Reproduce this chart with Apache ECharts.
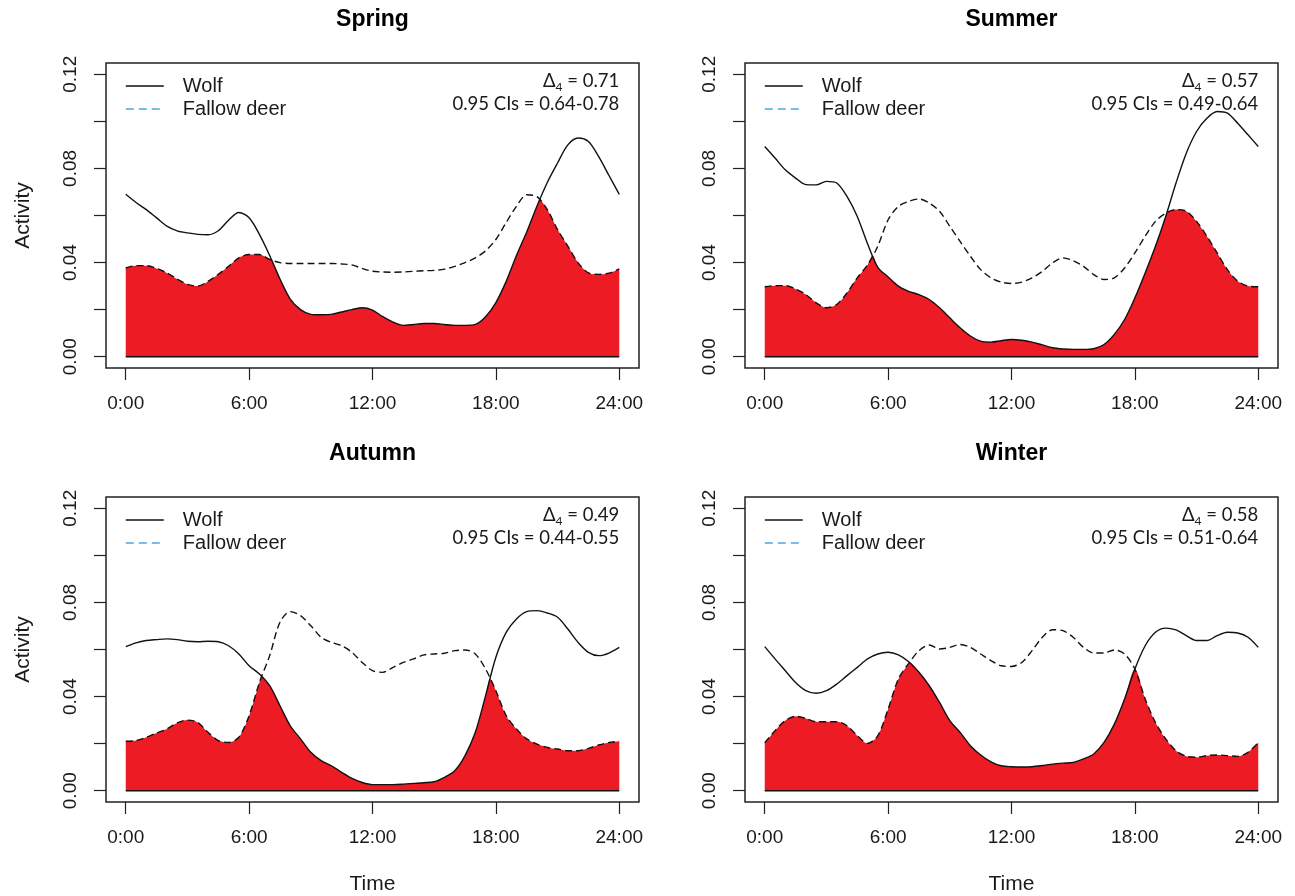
<!DOCTYPE html>
<html><head><meta charset="utf-8">
<script src="https://cdn.jsdelivr.net/npm/echarts@6/dist/echarts.min.js"></script>
<style>html,body{margin:0;padding:0;background:#fff}#c{width:1295px;height:896px}</style>
</head><body><div id="c"></div>
<script>
// ---- data ----
const hours = [0,0.5,1,1.5,2,2.5,3,3.5,4,4.5,5,5.5,6,6.5,7,7.5,8,8.5,9,9.5,10,10.5,11,11.5,12,12.5,13,13.5,14,14.5,15,15.5,16,16.5,17,17.5,18,18.5,19,19.5,20,20.5,21,21.5,22,22.5,23,23.5,24];
const xTicks = [0,6,12,18,24];
const xTickLabels = ['0:00','6:00','12:00','18:00','24:00'];
const yTicks = [0,0.02,0.04,0.06,0.08,0.10,0.12];
const yTickLabels = [0,0.04,0.08,0.12];
const seasons = ['Spring','Summer','Autumn','Winter'];
const deltaValues = ['0.71','0.57','0.49','0.58'];
const ciValues = ['0.64-0.78','0.49-0.64','0.44-0.55','0.51-0.64'];

const springWolf = [0.069,0.0655,0.0625,0.059,0.0555,0.0535,0.0526,0.052,0.0518,
  0.0535,0.058,0.0613,0.059,0.052,0.043,0.033,0.0245,
  0.020,0.018,0.0178,0.018,0.019,0.020,0.0208,0.0198,
  0.017,0.0147,0.0133,0.0137,0.0141,0.0141,0.0137,0.0133,
  0.0133,0.0137,0.017,0.023,0.032,0.043,0.053,0.064,
  0.074,0.0823,0.090,0.0929,0.0914,0.085,0.077,0.069];
const springDeer = [0.0377,0.0387,0.0387,0.0375,0.0356,0.033,0.0307,0.030,0.032,
  0.035,0.0384,0.042,0.0434,0.0434,0.0413,0.040,0.0396,
  0.0396,0.0396,0.0396,0.0396,0.0394,0.039,0.0375,0.0363,
  0.036,0.0359,0.036,0.0363,0.0365,0.0367,0.0372,0.0384,
  0.040,0.042,0.045,0.0498,0.057,0.0639,0.0688,0.068,
  0.0625,0.054,0.047,0.0399,0.0356,0.035,0.0355,0.0373];
const summerWolf = [0.0893,0.0844,0.0794,0.0759,0.0731,0.073,0.0745,0.0738,0.0681,
  0.0596,0.048,0.038,0.0339,0.030,0.0278,0.0264,0.0243,
  0.0208,0.0165,0.0123,0.0088,0.0066,0.0062,0.0068,0.0073,
  0.007,0.0062,0.005,0.0038,0.0033,0.0031,0.0031,0.0034,
  0.0052,0.0095,0.0158,0.025,0.0356,0.0469,0.0596,0.0738,
  0.0865,0.0957,0.1013,0.1042,0.1035,0.0992,0.0943,0.0893];
const summerDeer = [0.0297,0.0302,0.0302,0.0288,0.0264,0.0229,0.0208,0.0222,0.0271,
  0.0335,0.039,0.047,0.0582,0.0639,0.066,0.067,0.0653,
  0.0618,0.0554,0.049,0.0427,0.037,0.0335,0.0317,0.0311,
  0.0317,0.0335,0.0363,0.0399,0.042,0.0408,0.0384,0.0349,
  0.0328,0.0335,0.0377,0.0441,0.0512,0.0575,0.061,0.0625,
  0.0618,0.0575,0.0512,0.0441,0.037,0.0321,0.030,0.0297];
const autumnWolf = [0.0612,0.0628,0.0638,0.0642,0.0645,0.0642,0.0635,0.0633,0.0635,
  0.0633,0.0616,0.0581,0.0531,0.0496,0.0446,0.0361,0.0276,
  0.022,0.0163,0.0128,0.0106,0.0078,0.0052,0.0035,0.0026,
  0.0026,0.0026,0.0028,0.0031,0.0034,0.0038,0.0057,0.0085,
  0.0149,0.0248,0.0404,0.0567,0.0673,0.073,0.0761,0.0765,
  0.0755,0.0737,0.0687,0.063,0.0588,0.0574,0.0585,0.0609];
const autumnDeer = [0.021,0.0213,0.0227,0.0245,0.0262,0.0288,0.03,0.029,0.0248,
  0.0213,0.0205,0.0227,0.0319,0.046,0.0574,0.0716,0.0761,
  0.0744,0.0701,0.0652,0.063,0.0616,0.0588,0.0545,0.051,
  0.0503,0.0524,0.0545,0.056,0.0577,0.0581,0.0584,0.0595,
  0.0598,0.0581,0.0517,0.0425,0.0319,0.0262,0.022,0.0198,
  0.0184,0.0177,0.017,0.017,0.018,0.0194,0.0205,0.021];
const winterWolf = [0.0612,0.056,0.051,0.046,0.0425,0.0414,0.0425,0.0453,0.0489,
  0.0524,0.056,0.0581,0.0588,0.0577,0.0548,0.0503,0.0446,
  0.0375,0.0298,0.0248,0.0191,0.0152,0.0123,0.0106,0.0102,
  0.0101,0.0102,0.0107,0.0113,0.0117,0.012,0.0135,0.0156,
  0.0205,0.0283,0.039,0.0517,0.0616,0.0673,0.0691,0.0683,
  0.0659,0.0638,0.0638,0.0659,0.0673,0.067,0.0652,0.0609];
const winterDeer = [0.0203,0.0255,0.0298,0.0316,0.0307,0.0293,0.0293,0.0293,0.0276,
  0.0234,0.0201,0.0234,0.0347,0.0475,0.0541,0.0595,0.0619,
  0.0602,0.0609,0.0621,0.0609,0.0581,0.0553,0.0531,0.0528,
  0.0545,0.0595,0.0652,0.0684,0.068,0.0652,0.0609,0.0585,
  0.0585,0.0598,0.0581,0.0517,0.039,0.029,0.022,0.017,
  0.0146,0.0142,0.0149,0.0152,0.0149,0.0146,0.0163,0.0205];

const wolfSets = [springWolf, summerWolf, autumnWolf, winterWolf];
const deerSets = [springDeer, summerDeer, autumnDeer, winterDeer];

// ---- layout ----
const panels = [{left:106, top:63}, {left:745, top:63}, {left:106, top:497}, {left:745, top:497}];
const W = 533, H = 305;
const XMIN = -0.96, XMAX = 24.96, YMIN = -0.0048, YMAX = 0.1248;
const TXT = '#1a1a1a';
const RED = '#ED1C24';
const SMOOTH = 0.3;

function pairs(vals){ return hours.map((h,k)=>[h, vals[k]]); }
function overlap(w, d){
  const pts = [];
  for (let k = 0; k < hours.length; k++){
    pts.push([hours[k], Math.min(w[k], d[k])]);
    if (k < hours.length - 1){
      const a = w[k]-d[k], b = w[k+1]-d[k+1];
      if (a*b < 0){
        const t = a/(a-b);
        pts.push([hours[k] + t*(hours[k+1]-hours[k]), w[k] + t*(w[k+1]-w[k])]);
      }
    }
  }
  return pts;
}

const grids = [], xAxes = [], yAxes = [], series = [], legends = [], graphics = [];
panels.forEach((p, i) => {
  grids.push({left:p.left, top:p.top, width:W, height:H, show:true, borderColor:'#222', borderWidth:1.5, backgroundColor:'transparent'});
  xAxes.push({
    type:'value', gridIndex:i, min:XMIN, max:XMAX,
    axisLine:{show:false, onZero:false}, splitLine:{show:false},
    axisTick:{show:true, inside:false, length:12, customValues:xTicks, lineStyle:{color:'#222', width:1.2}},
    axisLabel:{customValues:xTicks, margin:26, fontSize:19, fontFamily:'Liberation Sans', color:TXT,
      formatter:v => xTickLabels[xTicks.indexOf(Math.round(v))]},
    name: i >= 2 ? 'Time' : '', nameLocation:'middle', nameGap:72,
    nameTextStyle:{fontSize:21, fontFamily:'Liberation Sans', color:TXT}
  });
  yAxes.push({
    type:'value', gridIndex:i, min:YMIN, max:YMAX,
    axisLine:{show:false, onZero:false}, splitLine:{show:false},
    axisTick:{show:true, inside:false, length:12, customValues:yTicks, lineStyle:{color:'#222', width:1.2}},
    axisLabel:{customValues:yTickLabels, rotate:90, margin:25.5, fontSize:19, fontFamily:'Liberation Sans', color:TXT,
      formatter:v => v.toFixed(2)},
    name: (i % 2 === 0) ? 'Activity' : '', nameLocation:'middle', nameGap:72.5,
    nameTextStyle:{fontSize:21, fontFamily:'Liberation Sans', color:TXT}
  });
  series.push({type:'line', xAxisIndex:i, yAxisIndex:i, data:overlap(wolfSets[i], deerSets[i]), symbol:'none',
    smooth:SMOOTH, lineStyle:{width:0}, areaStyle:{color:RED, opacity:1, origin:0}, z:1, silent:true});
  series.push({type:'line', xAxisIndex:i, yAxisIndex:i, data:[[xTicks[0],0],[xTicks[xTicks.length-1],0]], symbol:'none',
    lineStyle:{color:'#111', width:1.6}, z:2, silent:true});
  series.push({name:'Wolf', type:'line', xAxisIndex:i, yAxisIndex:i, data:pairs(wolfSets[i]), symbol:'none',
    smooth:SMOOTH, itemStyle:{color:'#111'}, lineStyle:{color:'#111', width:1.4}, z:3, silent:true});
  series.push({name:'Fallow deer', type:'line', xAxisIndex:i, yAxisIndex:i, data:pairs(deerSets[i]), symbol:'none',
    smooth:SMOOTH, itemStyle:{color:'#111'}, lineStyle:{color:'#111', width:1.4, type:[7,4]}, z:3, silent:true});
  legends.push({
    orient:'vertical', left:p.left + 19, top:p.top + 13, padding:0, itemGap:3,
    itemWidth:38, itemHeight:14, selectedMode:false,
    textStyle:{fontSize:20, fontFamily:'Liberation Sans', color:TXT, lineHeight:20, padding:[0,0,0,14]},
    data:[{name:'Wolf', itemStyle:{opacity:0}, lineStyle:{color:'#111', width:1.6, type:'solid'}},
          {name:'Fallow deer', itemStyle:{opacity:0}, lineStyle:{color:'#4da6e0', width:1.6, type:[8,5]}}]
  });
  const cx = p.left + W/2;
  graphics.push({type:'text', x:cx, y:p.top - 43, silent:true,
    style:{text:seasons[i], align:'center', verticalAlign:'middle', fill:'#000',
      font:'bold 23px "Liberation Sans"'}});
  const rx = p.left + (xTicks[xTicks.length-1] - XMIN) / (XMAX - XMIN) * W;
  graphics.push({type:'text', x:rx, y:p.top + 7, silent:true,
    style:{text:'{a|Δ}{s|4}{a| = ' + deltaValues[i] + '}\n{a|0.95 CIs = ' + ciValues[i] + '}',
      align:'right', verticalAlign:'top', fill:TXT,
      rich:{a:{fontSize:18.5, fontFamily:'Lato', lineHeight:23, color:TXT},
            s:{fontSize:12, fontFamily:'Lato', lineHeight:12, verticalAlign:'bottom', color:TXT}}}});
});

const chart = echarts.init(document.getElementById('c'), null, {renderer:'canvas'});
chart.setOption({
  animation:false, backgroundColor:'#fff',
  grid:grids, xAxis:xAxes, yAxis:yAxes, series:series, legend:legends, graphic:graphics
});
</script></body></html>
